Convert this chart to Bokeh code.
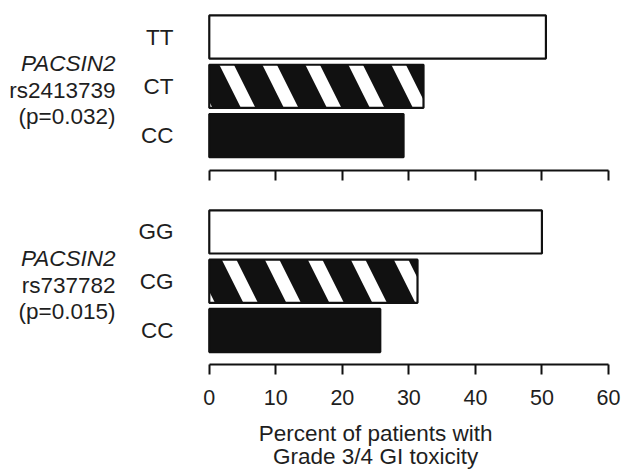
from bokeh.plotting import figure
from bokeh.layouts import column
from bokeh.models import Range1d, FixedTicker, ColumnDataSource
from bokeh.core.properties import value
from bokeh.embed import file_html
from bokeh.resources import INLINE

# ---- data ----
genes = ["PACSIN2", "PACSIN2"]
snps = ["rs2413739", "rs737782"]
pvals = ["(p=0.032)", "(p=0.015)"]
genotypes_1 = ["TT", "CT", "CC"]
percent_1 = [50.6, 32.2, 29.2]
genotypes_2 = ["GG", "CG", "CC"]
percent_2 = [50.0, 31.3, 25.7]
x_ticks = [0, 10, 20, 30, 40, 50, 60]
x_title = ["Percent of patients with", "Grade 3/4 GI toxicity"]

FONT = "Liberation Sans"
TXT = "#1e1e1e"
FS = "22.5px"
styles = [
    dict(fill_color="white", hatch_pattern=" "),
    dict(fill_color="#111111", hatch_pattern="\\", hatch_color="white", hatch_scale=86, hatch_weight=13),
    dict(fill_color="#111111", hatch_pattern=" "),
]
X_START, X_END = -31.38, 62.26


def panel(genotypes, percent, gene, snp, pval, height, y_start, y_end, border_top, border_bottom, show_labels):
    p = figure(width=623, height=height, output_backend="svg", toolbar_location=None,
               x_range=Range1d(X_START, X_END), y_range=Range1d(y_start, y_end),
               y_axis_location=None,
               min_border_left=0, min_border_right=0,
               min_border_top=border_top, min_border_bottom=border_bottom)
    p.outline_line_color = None
    p.xgrid.visible = False
    p.ygrid.visible = False
    n = len(genotypes)
    ypos = [n - 1 - i for i in range(n)]
    for i in range(n):
        src = ColumnDataSource(dict(y=[ypos[i]], right=[percent[i]]))
        p.hbar(y="y", left=0, right="right", height=0.875, source=src,
               line_color="#111111", line_width=2.2, **styles[i])
    # genotype labels
    p.text(x=[-5.37] * n, y=ypos, text=genotypes, text_align="right", text_baseline="middle",
           text_font=value(FONT), text_font_size=FS, text_color=TXT)
    # gene / snp / p-value labels
    mid = ypos[1]
    lines = [gene, snp, pval]
    ys = [mid + 0.46 - 0.537 * k for k in range(3)]
    p.text(x=[-14.09], y=ys[:1], text=lines[:1], text_align="right", text_baseline="middle",
           text_font=value(FONT), text_font_size=FS, text_font_style="italic", text_color=TXT)
    p.text(x=[-14.09] * 2, y=ys[1:], text=lines[1:], text_align="right", text_baseline="middle",
           text_font=value(FONT), text_font_size=FS, text_color=TXT)
    # x axis
    xa = p.xaxis[0]
    xa.bounds = (0, 60)
    xa.ticker = FixedTicker(ticks=x_ticks)
    xa.minor_tick_line_color = None
    xa.axis_line_width = 2
    xa.axis_line_color = "#111111"
    xa.major_tick_line_width = 2
    xa.major_tick_line_color = "#111111"
    xa.major_tick_in = 0
    xa.major_tick_out = 10
    xa.major_label_text_font = FONT
    xa.major_label_text_color = TXT
    xa.major_label_text_font_size = "21.5px"
    if show_labels:
        xa.major_label_standoff = 15
    else:
        xa.major_label_standoff = 0
        xa.major_label_overrides = {t: "" for t in x_ticks}
    return p


top = panel(genotypes_1, percent_1, genes[0], snps[0], pvals[0], 190, -0.708, 2.639, 5, 20, False)
bottom = panel(genotypes_2, percent_2, genes[1], snps[1], pvals[1], 222, -0.69, 2.74, 5, 48, True)

# axis title as a text-only strip under the lower panel
title_fig = figure(width=623, height=58, output_backend="svg", toolbar_location=None,
                   x_range=Range1d(X_START, X_END), y_range=Range1d(0, 58),
                   x_axis_location=None, y_axis_location=None,
                   min_border_left=0, min_border_right=0, min_border_top=0, min_border_bottom=0)
title_fig.outline_line_color = None
title_fig.xgrid.visible = False
title_fig.ygrid.visible = False
title_fig.text(x=[25.0, 25.0], y=[37, 14], text=x_title, text_align="center", text_baseline="middle",
               text_font=value(FONT), text_font_size=FS, text_color=TXT)

layout = column(top, bottom, title_fig, spacing=0)
open("out.html", "w").write(file_html(layout, INLINE))
